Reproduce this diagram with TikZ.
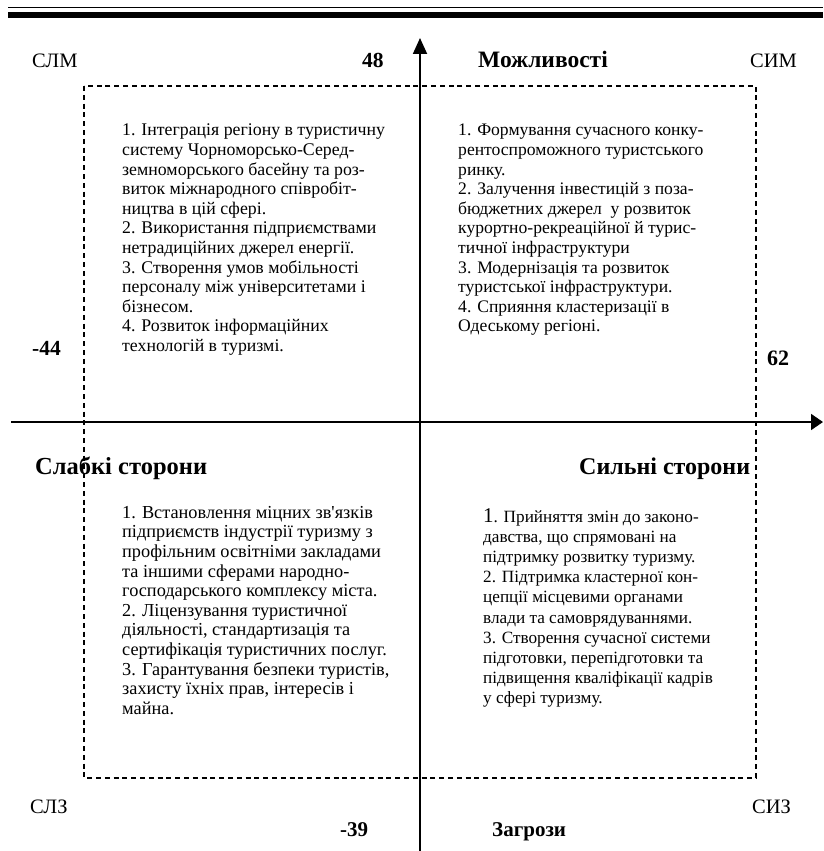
\documentclass[tikz,border=0pt]{standalone}
\usepackage{fontspec}
\setmainfont{Liberation Serif}[Ligatures=TeXOff]
\usetikzlibrary{arrows.meta}
\begin{document}
\begin{tikzpicture}[x={(1pt,0)},y={(0,-1pt)},
  lbl/.style={inner sep=0,anchor=base west,font=\fontsize{20.5}{22}\selectfont},
  blbl/.style={inner sep=0,anchor=base west,font=\fontsize{#1}{22}\selectfont\bfseries},
  body/.style={inner sep=0,anchor=north west,align=left,font=\fontsize{#1}{19.6}\selectfont},
  axis/.style={line width=1.8pt},
  frame/.style={line width=1.6pt,dash pattern=on 5pt off 3.8pt}]
\useasboundingbox (0,0) rectangle (823,851);
% top rules
\coordinate (r1a) at (8,7.5); \coordinate (r1b) at (823,7.5);
\coordinate (r2a) at (8,15.3); \coordinate (r2b) at (823,15.3);
\draw[line width=1.5pt] (r1a) -- (r1b);
\draw[line width=6pt] (r2a) -- (r2b);
% dashed frame
\coordinate (f1) at (84,86); \coordinate (f2) at (756,778);
\draw[frame] (f1) rectangle (f2);
% axes
\coordinate (vs) at (420,851); \coordinate (ve) at (420,38);
\coordinate (hs) at (11,422); \coordinate (he) at (823,422);
\draw[axis,-{Triangle[length=16pt,width=14pt]}] (vs) -- (ve);
\draw[axis,-{Triangle[length=12pt,width=16pt]}] (hs) -- (he);
% corner and axis labels
\node[lbl] (slm) at (32,67) {СЛМ};
\node[blbl=21.5] (n48) at (362,67) {48};
\node[blbl=23.5] (mozh) at (478,67) {Можливості};
\node[lbl] (sim) at (750,67) {СИМ};
\node[blbl=21.5] (n44) at (32,355) {-44};
\node[blbl=22] (n62) at (767,365) {62};
\node[blbl=24.5] (slab) at (35,474) {Слабкі сторони};
\node[blbl=24] (syl) at (579,474) {Сильні сторони};
\node[lbl] (slz) at (30,813) {СЛЗ};
\node[lbl] (siz) at (752,813) {СИЗ};
\node[blbl=21] (n39) at (340,836) {-39};
\node[blbl=21] (zagr) at (492,836) {Загрози};
% quadrant texts
\node[body=17.8] (tl) at (122,124) {1. Інтеграція регіону в туристичну\\
систему Чорноморсько-Серед-\\
земноморського басейну та роз-\\
виток міжнародного співробіт-\\
ництва в цій сфері.\\
2. Використання підприємствами\\
нетрадиційних джерел енергії.\\
3. Створення умов мобільності\\
персоналу між університетами і\\
бізнесом.\\
4. Розвиток інформаційних\\
технологій в туризмі.};
\node[body=17.6] (tr) at (458,124) {1. Формування сучасного конку-\\
рентоспроможного туристського\\
ринку.\\
2. Залучення інвестицій з поза-\\
бюджетних джерел\ \ у розвиток\\
курортно-рекреаційної й турис-\\
тичної інфраструктури\\
3. Модернізація та розвиток\\
туристської інфраструктури.\\
4. Сприяння кластеризації в\\
Одеському регіоні.};
\node[body=18.3] (bl) at (122,506) {1. Встановлення міцних зв'язків\\
підприємств індустрії туризму з\\
профільним освітніми закладами\\
та іншими сферами народно-\\
господарського комплексу міста.\\
2. Ліцензування туристичної\\
діяльності, стандартизація та\\
сертифікація туристичних послуг.\\
3. Гарантування безпеки туристів,\\
захисту їхніх прав, інтересів і\\
майна.};
\node[body=17.2,font=\fontsize{17.2}{20.2}\selectfont] (br) at (483,508) {{\fontsize{21}{20.2}\selectfont 1}. Прийняття змін до законо-\\
давства, що спрямовані на\\
підтримку розвитку туризму.\\
2. Підтримка кластерної кон-\\
цепції місцевими органами\\
влади та самоврядуваннями.\\
3. Створення сучасної системи\\
підготовки, перепідготовки та\\
підвищення кваліфікації кадрів\\
у сфері туризму.};
\end{tikzpicture}
\end{document}
